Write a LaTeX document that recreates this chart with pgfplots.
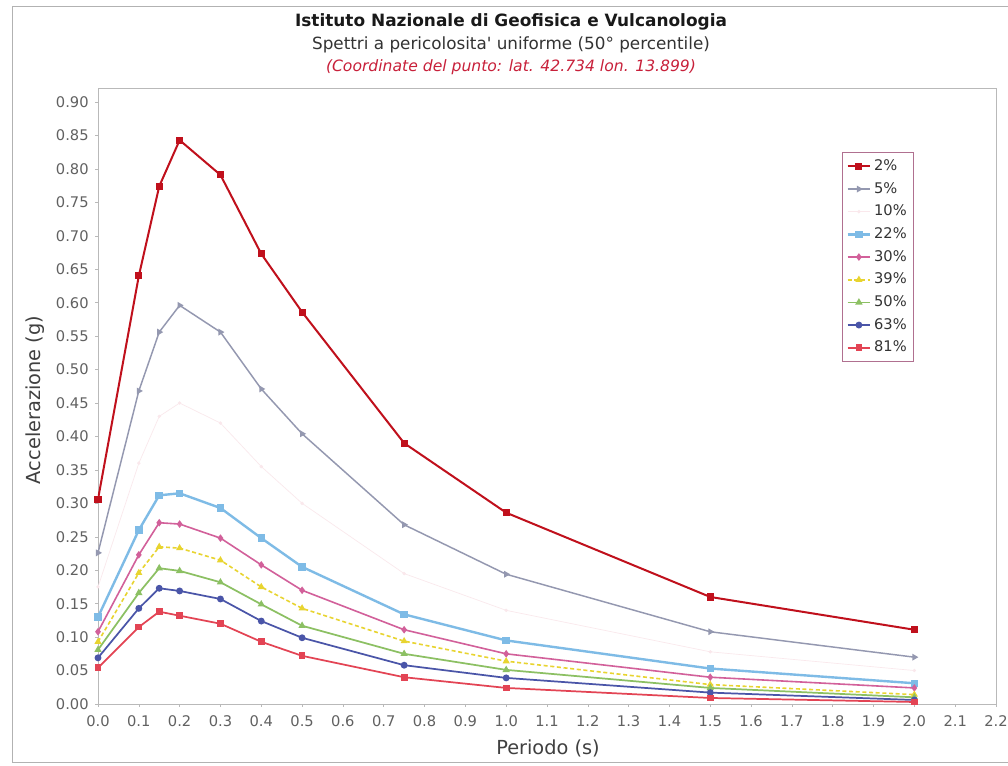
\documentclass[border=0pt]{standalone}
\usepackage{fontspec}
\setmainfont{DejaVu Sans}
\newfontfamily\nolig{DejaVu Sans}
\usepackage{pgfplots}
\pgfplotsset{compat=1.18}
\definecolor{cA}{HTML}{C0101C}
\definecolor{cB}{HTML}{9498B0}
\definecolor{cC}{HTML}{FAE8EC}
\definecolor{cD}{HTML}{7EBBE6}
\definecolor{cE}{HTML}{D2609A}
\definecolor{cF}{HTML}{E8D430}
\definecolor{cG}{HTML}{8CC063}
\definecolor{cH}{HTML}{4A55A8}
\definecolor{cI}{HTML}{E34454}
\definecolor{legbord}{HTML}{B07090}
\definecolor{subred}{HTML}{C8203A}
\begin{document}
\begin{tikzpicture}
\useasboundingbox (-73.5pt,-46.5pt) rectangle (682.5pt,528pt);
\fill[white] (-73.5pt,-46.5pt) rectangle (682.5pt,528pt);
\draw[gray!60, line width=0.6pt] (700pt,523.5pt) -- (-64.5pt,523.5pt) -- (-64.5pt,-43.5pt) -- (700pt,-43.5pt);
\begin{axis}[
  at={(0,0)}, anchor=south west, scale only axis,
  width=673.5pt, height=462pt,
  xmin=0, xmax=2.2, ymin=0, ymax=0.921,
  xtick={0,0.1,0.2,0.3,0.4,0.5,0.6,0.7,0.8,0.9,1.0,1.1,1.2,1.3,1.4,1.5,1.6,1.7,1.8,1.9,2.0,2.1,2.2},
  ytick={0,0.05,0.1,0.15,0.2,0.25,0.3,0.35,0.4,0.45,0.5,0.55,0.6,0.65,0.7,0.75,0.8,0.85,0.9},
  xticklabel style={yshift=-3pt,/pgf/number format/.cd,fixed,fixed zerofill,precision=1},
  yticklabel style={xshift=-1.5pt,/pgf/number format/.cd,fixed,fixed zerofill,precision=2},
  /pgf/number format/assume math mode=true,
  tick label style={font=\fontsize{11}{13}\selectfont, text=black!62},
  axis line style={gray!55, line width=0.5pt},
  tick style={gray!55, line width=0.4pt},
  tick align=outside, major tick length=2pt,
  xtick pos=lower, ytick pos=left,
  legend style={at={(0.8285,0.896)}, anchor=north west, draw=legbord, line width=0.5pt,
    font=\fontsize{11}{13}\selectfont, text=black!80, row sep=0pt,
    nodes={text height=8.5pt, text depth=2.5pt, inner ysep=3pt}},
  legend cell align=left,
  every axis plot/.append style={mark size=1.9pt},
]
\addplot[color=cA, line width=1.5pt, mark=square*] coordinates {(0,0.306) (0.1,0.640) (0.15,0.774) (0.2,0.843) (0.3,0.791) (0.4,0.673) (0.5,0.586) (0.75,0.390) (1.0,0.286) (1.5,0.160) (2.0,0.111)};
\addlegendentry{2\%}
\addplot[color=cB, line width=1.1pt, mark=triangle*, mark options={rotate=-90}] coordinates {(0,0.226) (0.1,0.468) (0.15,0.556) (0.2,0.596) (0.3,0.556) (0.4,0.471) (0.5,0.404) (0.75,0.268) (1.0,0.194) (1.5,0.108) (2.0,0.070)};
\addlegendentry{5\%}
\addplot[color=cC, line width=0.5pt, mark=*, mark size=1pt] coordinates {(0,0.175) (0.1,0.360) (0.15,0.430) (0.2,0.450) (0.3,0.420) (0.4,0.355) (0.5,0.300) (0.75,0.195) (1.0,0.140) (1.5,0.078) (2.0,0.050)};
\addlegendentry{10\%}
\addplot[color=cD, line width=1.8pt, mark=square*] coordinates {(0,0.130) (0.1,0.260) (0.15,0.312) (0.2,0.315) (0.3,0.293) (0.4,0.248) (0.5,0.205) (0.75,0.134) (1.0,0.095) (1.5,0.053) (2.0,0.031)};
\addlegendentry{22\%}
\addplot[color=cE, line width=1.2pt, mark=diamond*] coordinates {(0,0.108) (0.1,0.223) (0.15,0.271) (0.2,0.269) (0.3,0.248) (0.4,0.208) (0.5,0.170) (0.75,0.111) (1.0,0.075) (1.5,0.040) (2.0,0.024)};
\addlegendentry{30\%}
\addplot[color=cF, line width=1.2pt, densely dashed, mark=triangle*, mark options={solid}] coordinates {(0,0.093) (0.1,0.196) (0.15,0.235) (0.2,0.233) (0.3,0.215) (0.4,0.175) (0.5,0.143) (0.75,0.094) (1.0,0.064) (1.5,0.029) (2.0,0.014)};
\addlegendentry{39\%}
\addplot[color=cG, line width=1.3pt, mark=triangle*] coordinates {(0,0.081) (0.1,0.166) (0.15,0.203) (0.2,0.199) (0.3,0.182) (0.4,0.149) (0.5,0.117) (0.75,0.075) (1.0,0.051) (1.5,0.024) (2.0,0.010)};
\addlegendentry{50\%}
\addplot[color=cH, line width=1.3pt, mark=*] coordinates {(0,0.069) (0.1,0.143) (0.15,0.173) (0.2,0.169) (0.3,0.157) (0.4,0.124) (0.5,0.099) (0.75,0.058) (1.0,0.039) (1.5,0.017) (2.0,0.006)};
\addlegendentry{63\%}
\addplot[color=cI, line width=1.3pt, mark=square*] coordinates {(0,0.054) (0.1,0.115) (0.15,0.138) (0.2,0.132) (0.3,0.120) (0.4,0.093) (0.5,0.072) (0.75,0.040) (1.0,0.024) (1.5,0.009) (2.0,0.003)};
\addlegendentry{81\%}
\end{axis}
\node[font=\bfseries\fontsize{12.7}{15}\selectfont, text=black!90] at (309.75pt,511.5pt) {Istituto Nazionale di Geofisica e Vulcanologia};
\node[font=\fontsize{12.6}{15}\selectfont, text=black!80] at (309.75pt,494.25pt) {Spettri a pericolosita{\nolig '} uniforme (50° percentile)};
\node[font=\itshape\fontsize{11.7}{14}\selectfont, text=subred] at (309.75pt,477.75pt) {(Coordinate del punto: lat. 42.734 lon. 13.899)};
\node[font=\fontsize{14.5}{17}\selectfont, text=black!75, rotate=90] at (-47.25pt,228pt) {Accelerazione (g)};
\node[font=\fontsize{14.5}{17}\selectfont, text=black!75] at (337.5pt,-33pt) {Periodo (s)};
\end{tikzpicture}
\end{document}
